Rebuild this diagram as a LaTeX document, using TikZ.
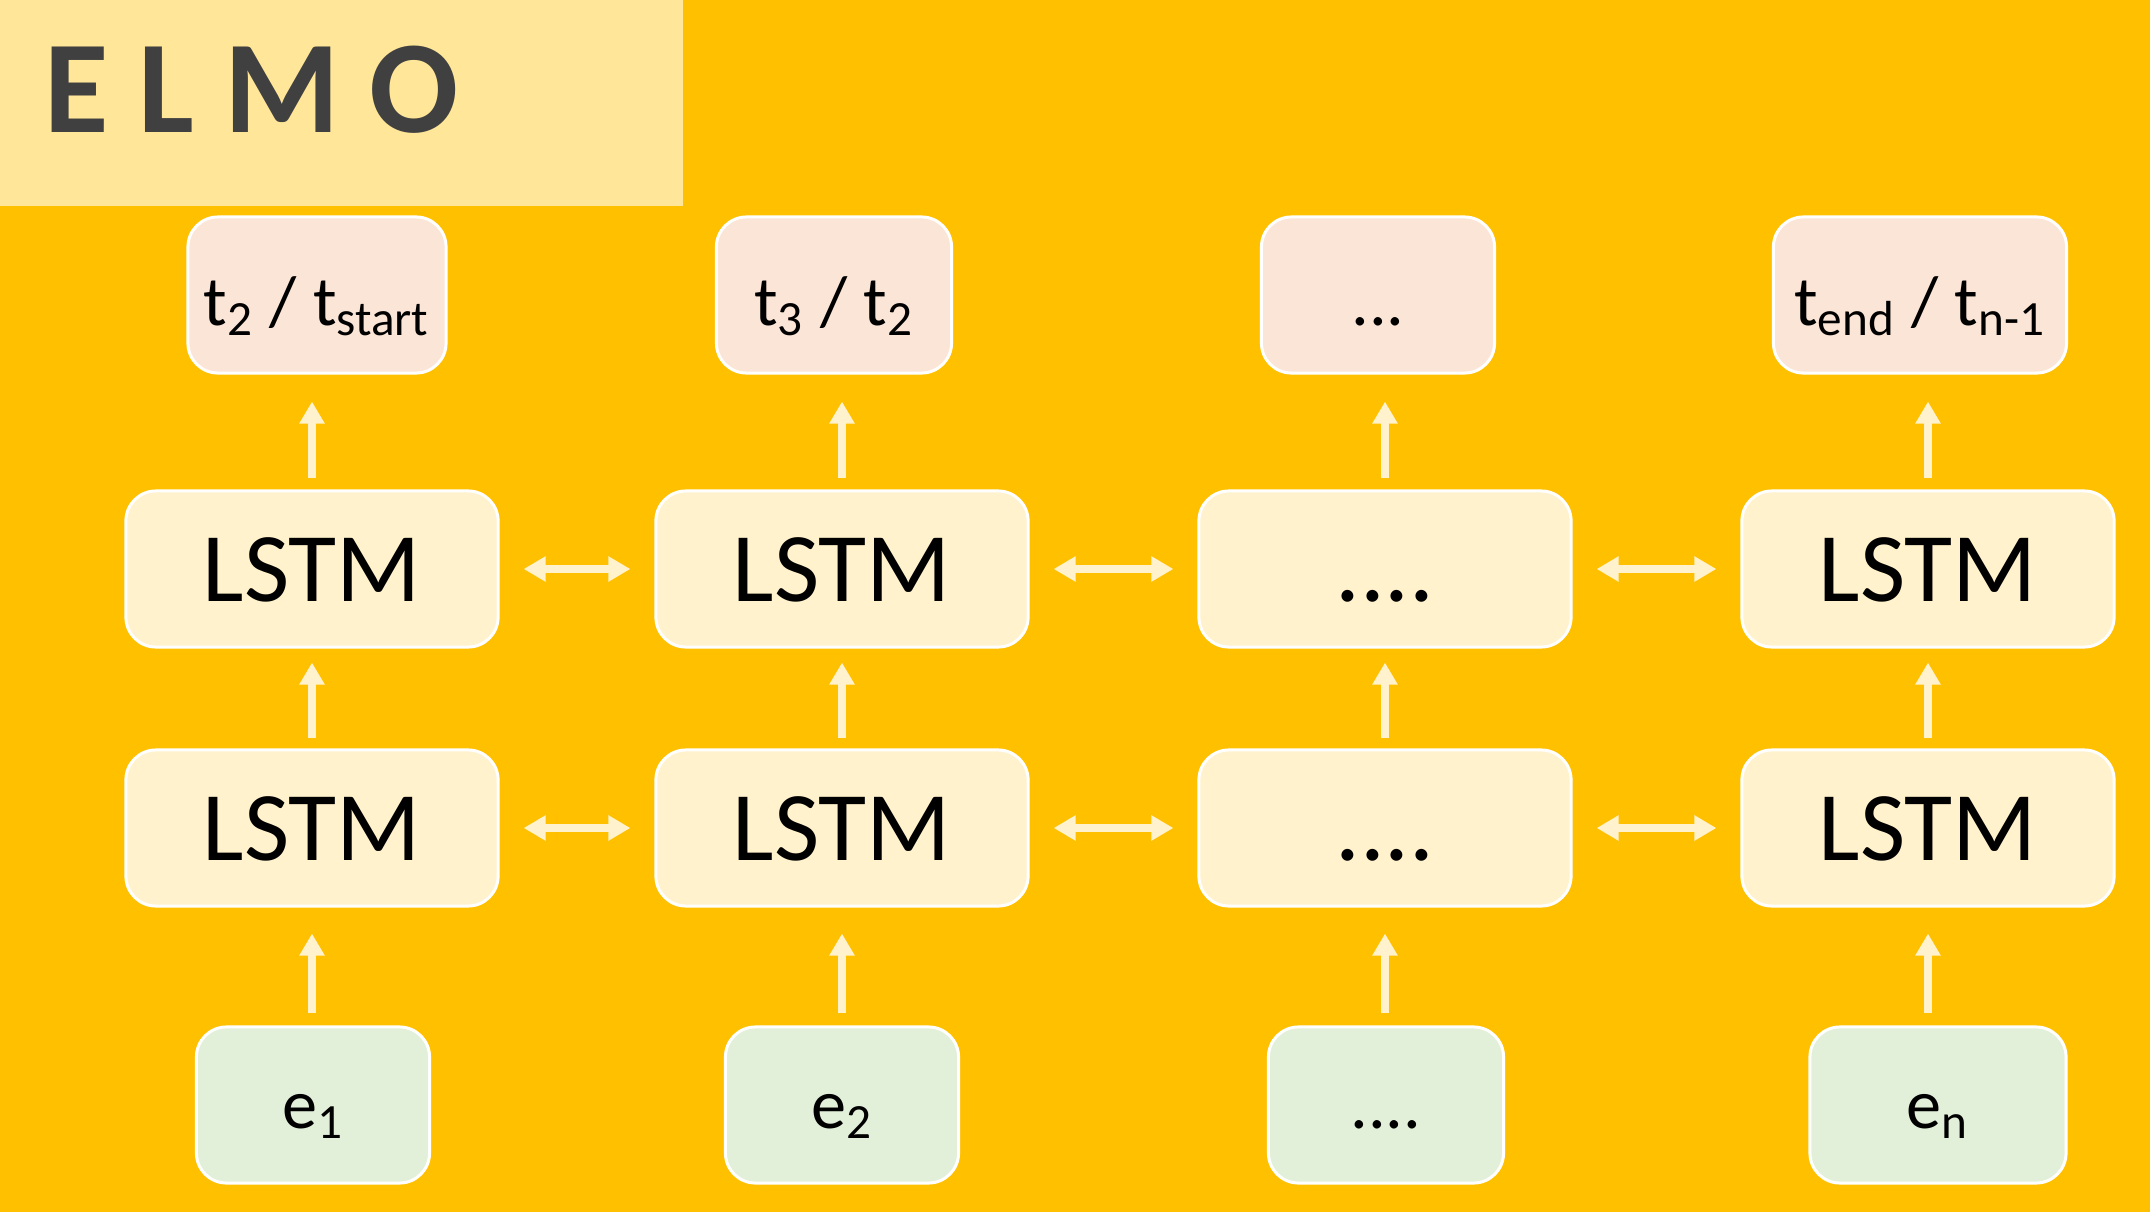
\documentclass[tikz,border=0pt]{standalone}
\usepackage{fontspec}
\setmainfont{Carlito}
\usetikzlibrary{arrows.meta}
\definecolor{bgyellow}{HTML}{FFC000}
\definecolor{titlepanel}{HTML}{FFE699}
\definecolor{cream}{HTML}{FFF2CC}
\definecolor{peach}{HTML}{FBE5D6}
\definecolor{mint}{HTML}{E2F0D9}
\definecolor{titlegray}{HTML}{404040}
\newcommand{\fourdots}{....}
\tikzset{
  box/.style={draw=white, line width=0.03cm, rounded corners=0.3cm,
    minimum height=1.56cm, inner sep=0pt, align=center},
  outbox/.style={box, fill=peach, text height=0.6cm, text depth=0cm,
    font=\fontsize{20}{24}\selectfont},
  lstmbox/.style={box, fill=cream, minimum width=3.72cm, text height=0.64cm, text depth=0cm,
    font=\fontsize{28}{34}\selectfont},
  embbox/.style={box, fill=mint, text height=0.46cm, text depth=0cm,
    font=\fontsize{20}{24}\selectfont},
  tip/.tip={Stealth[inset=0pt, width=0.24cm, length=0.22cm]},
  uparrow/.style={draw=cream, fill=cream, line width=0.08cm, line cap=butt, -tip,
    shorten <=0.11cm, shorten >=0.27cm},
  sidearrow/.style={draw=cream, fill=cream, line width=0.08cm, line cap=butt, tip-tip,
    shorten <=0.24cm, shorten >=0.24cm}
}
\begin{document}
\begin{tikzpicture}[x=0.01cm, y=-0.01cm]
    \fill[bgyellow] (0,0) rectangle (2150,1212);
    \useasboundingbox (0,0) rectangle (2150,1212);
    \fill[titlepanel] (0,0) rectangle (683,206);
    \node[anchor=base west, inner sep=0pt, text=titlegray,
      font=\bfseries\fontsize{37.5}{45}\selectfont] (title) at (44,133) {E L M O};

    % outputs
    \node[outbox, minimum width=2.58cm] (out1) at (317,295) {t\textsubscript{2} / t\textsubscript{start}};
    \node[outbox, minimum width=2.35cm] (out2) at (834,295) {t\textsubscript{3} / t\textsubscript{2}};
    \node[outbox, minimum width=2.33cm] (out3) at (1378,295) {...};
    \node[outbox, minimum width=2.93cm] (out4) at (1920,295) {t\textsubscript{end} / t\textsubscript{n-1}};

    % two LSTM layers
    \foreach \i/\x/\txt in {1/312/LSTM, 2/842/LSTM, 3/1385/\fourdots, 4/1928/LSTM}
    {
    \node[lstmbox] (up\i) at (\x,569) {\txt};
    \node[lstmbox] (lo\i) at (\x,828) {\txt};
    }

    % embeddings
    \node[embbox, minimum width=2.33cm] (emb1) at (313,1105) {e\textsubscript{1}};
    \node[embbox, minimum width=2.33cm] (emb2) at (842,1105) {e\textsubscript{2}};
    \node[embbox, minimum width=2.35cm] (emb3) at (1386,1105) {....};
    \node[embbox, minimum width=2.56cm] (emb4) at (1938,1105) {e\textsubscript{n}};

    \foreach \i in {1,2,3,4}
    {
    \draw[uparrow] (up\i.north) -- (up\i.north |- out\i.south);
    \draw[uparrow, shorten <=0.10cm, shorten >=0.14cm] (lo\i.north) -- (lo\i.north |- up\i.south);
    \draw[uparrow, shorten <=0.12cm, shorten >=0.26cm] (lo\i.south |- emb\i.north) -- (lo\i.south);
    }
    \foreach \i/\j in {1/2, 2/3, 3/4}
    {
    \draw[sidearrow] (up\i.east) -- (up\j.west);
    \draw[sidearrow] (lo\i.east) -- (lo\j.west);
    }
\end{tikzpicture}
\end{document}
